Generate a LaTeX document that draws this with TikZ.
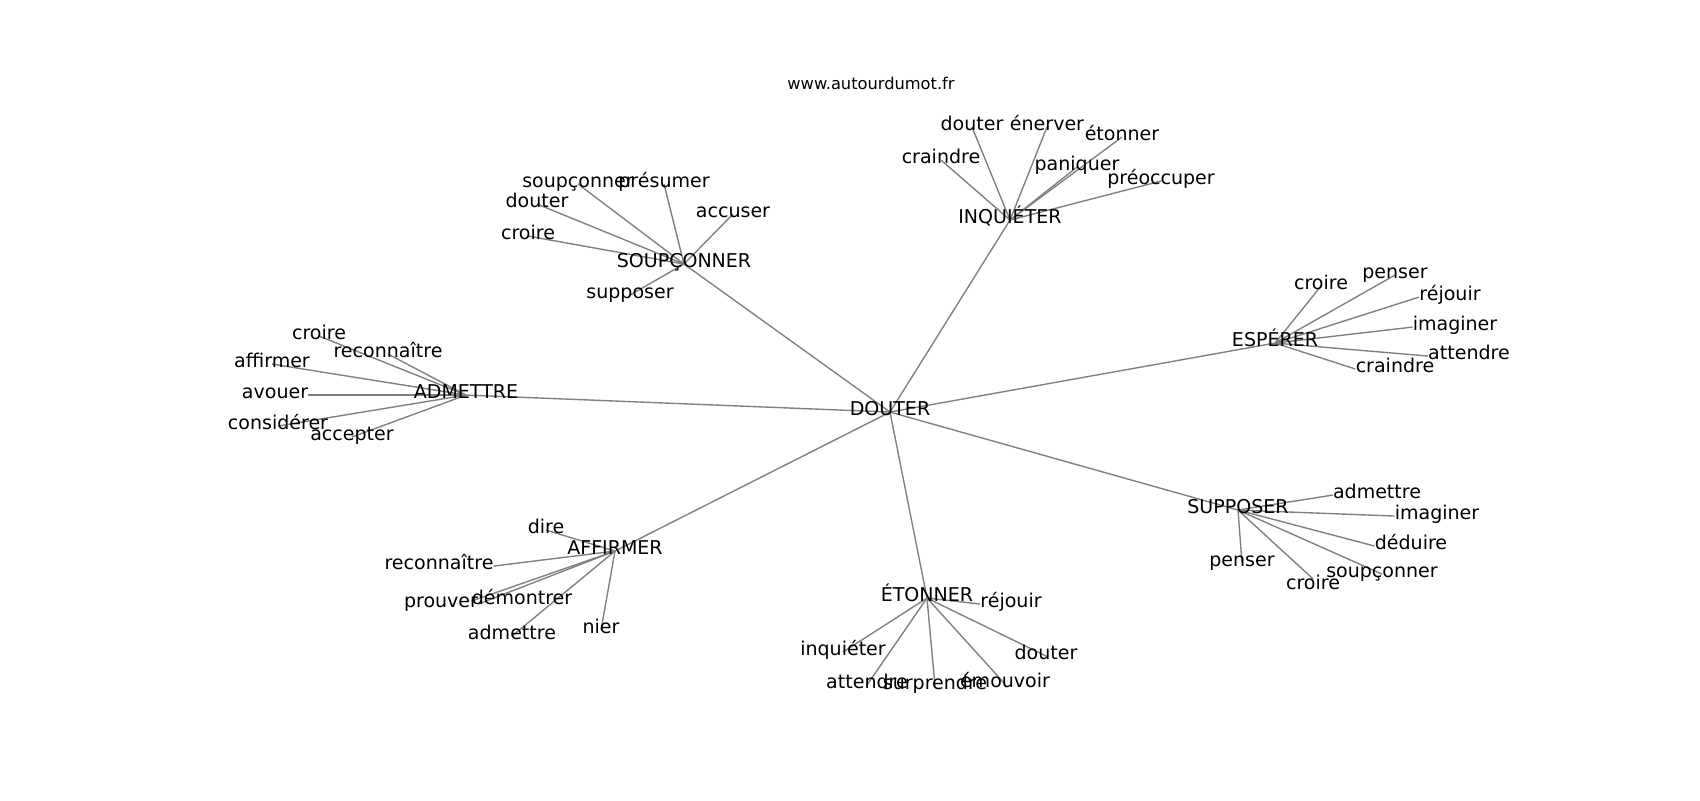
\documentclass[tikz,border=0pt]{standalone}
\usepackage{fontspec}
\setmainfont{DejaVu Sans}
\usetikzlibrary{backgrounds}

\begin{document}
\begin{tikzpicture}[x=0.72pt,y=-0.72pt,
  main node/.style={inner sep=0pt,yshift=-2.2pt,text height=0.76em,text depth=0.23em,font=\fontsize{13.7}{16}\selectfont},
  title node/.style={inner sep=0pt,font=\fontsize{11.7}{14}\selectfont}]

  \useasboundingbox (0,0) rectangle (1700,800);
  \node[title node] (T) at (871,83) {www.autourdumot.fr};

  % hubs
  \node[main node] (D) at (890,409) {DOUTER};
  \node[main node] (I) at (1010,217) {INQUIÉTER};
  \node[main node] (S) at (684,261) {SOUPÇONNER};
  \node[main node] (AD) at (466,392) {ADMETTRE};
  \node[main node] (E) at (1275,340) {ESPÉRER};
  \node[main node] (SU) at (1238,507) {SUPPOSER};
  \node[main node] (AF) at (615,548) {AFFIRMER};
  \node[main node] (ET) at (927,595) {ÉTONNER};

  % INQUIÉTER
  \node[main node] (I1) at (972,124) {douter};
  \node[main node] (I2) at (1047,124) {énerver};
  \node[main node] (I3) at (1122,134) {étonner};
  \node[main node] (I4) at (941,157) {craindre};
  \node[main node] (I5) at (1077,164) {paniquer};
  \node[main node] (I6) at (1161,178) {préoccuper};

  % SOUPÇONNER
  \node[main node] (S1) at (578,181) {soupçonner};
  \node[main node] (S2) at (664,181) {présumer};
  \node[main node] (S3) at (537,201) {douter};
  \node[main node] (S4) at (733,211) {accuser};
  \node[main node] (S5) at (528,233) {croire};
  \node[main node] (S6) at (630,292) {supposer};

  % ADMETTRE
  \node[main node] (AD1) at (319,333) {croire};
  \node[main node] (AD2) at (388,351) {reconnaître};
  \node[main node] (AD3) at (272,361) {affirmer};
  \node[main node] (AD4) at (275,392) {avouer};
  \node[main node] (AD5) at (278,423) {considérer};
  \node[main node] (AD6) at (352,434) {accepter};

  % ESPÉRER
  \node[main node] (E1) at (1321,283) {croire};
  \node[main node] (E2) at (1395,272) {penser};
  \node[main node] (E3) at (1450,294) {réjouir};
  \node[main node] (E4) at (1455,324) {imaginer};
  \node[main node] (E5) at (1469,353) {attendre};
  \node[main node] (E6) at (1395,366) {craindre};

  % SUPPOSER
  \node[main node] (SU1) at (1377,492) {admettre};
  \node[main node] (SU2) at (1437,513) {imaginer};
  \node[main node] (SU3) at (1411,543) {déduire};
  \node[main node] (SU4) at (1382,571) {soupçonner};
  \node[main node] (SU5) at (1242,560) {penser};
  \node[main node] (SU6) at (1313,583) {croire};

  % AFFIRMER
  \node[main node] (AF1) at (546,527) {dire};
  \node[main node] (AF2) at (439,563) {reconnaître};
  \node[main node] (AF3) at (441,601) {prouver};
  \node[main node] (AF4) at (522,598) {démontrer};
  \node[main node] (AF5) at (512,633) {admettre};
  \node[main node] (AF6) at (601,627) {nier};

  % ÉTONNER
  \node[main node] (ET1) at (1011,601) {réjouir};
  \node[main node] (ET2) at (843,649) {inquiéter};
  \node[main node] (ET3) at (1046,653) {douter};
  \node[main node] (ET4) at (867,682) {attendre};
  \node[main node] (ET5) at (935,683) {surprendre};
  \node[main node] (ET6) at (1005,681) {émouvoir};

  \begin{scope}[on background layer]
    \path[every edge/.style={draw=gray,line width=1pt}]
      (D.center) edge (I.center) (D.center) edge (S.center)
      (D.center) edge (AD.center) (D.center) edge (E.center)
      (D.center) edge (SU.center) (D.center) edge (AF.center)
      (D.center) edge (ET.center)
      (I.center) edge (I1.center) edge (I2.center) edge (I3.center)
        edge (I4.center) edge (I5.center) edge (I6.center)
      (S.center) edge (S1.center) edge (S2.center) edge (S3.center)
        edge (S4.center) edge (S5.center) edge (S6.center)
      (AD.center) edge (AD1.center) edge (AD2.center) edge (AD3.center)
        edge (AD4.east) edge (AD5.center) edge (AD6.center)
      (E.center) edge (E1.center) edge (E2.center) edge (E3.west)
        edge (E4.west) edge (E5.west) edge (E6.west)
      (SU.center) edge (SU1.west) edge (SU2.west) edge (SU3.west)
        edge (SU4.center) edge (SU5.center) edge (SU6.north)
      (AF.center) edge (AF1.center) edge (AF2.east) edge (AF3.east)
        edge (AF4.west) edge (AF5.center) edge (AF6.center)
      (ET.center) edge (ET1.west) edge (ET2.center) edge (ET3.center)
        edge (ET4.center) edge (ET5.center) edge (ET6.center);
  \end{scope}
\end{tikzpicture}
\end{document}
